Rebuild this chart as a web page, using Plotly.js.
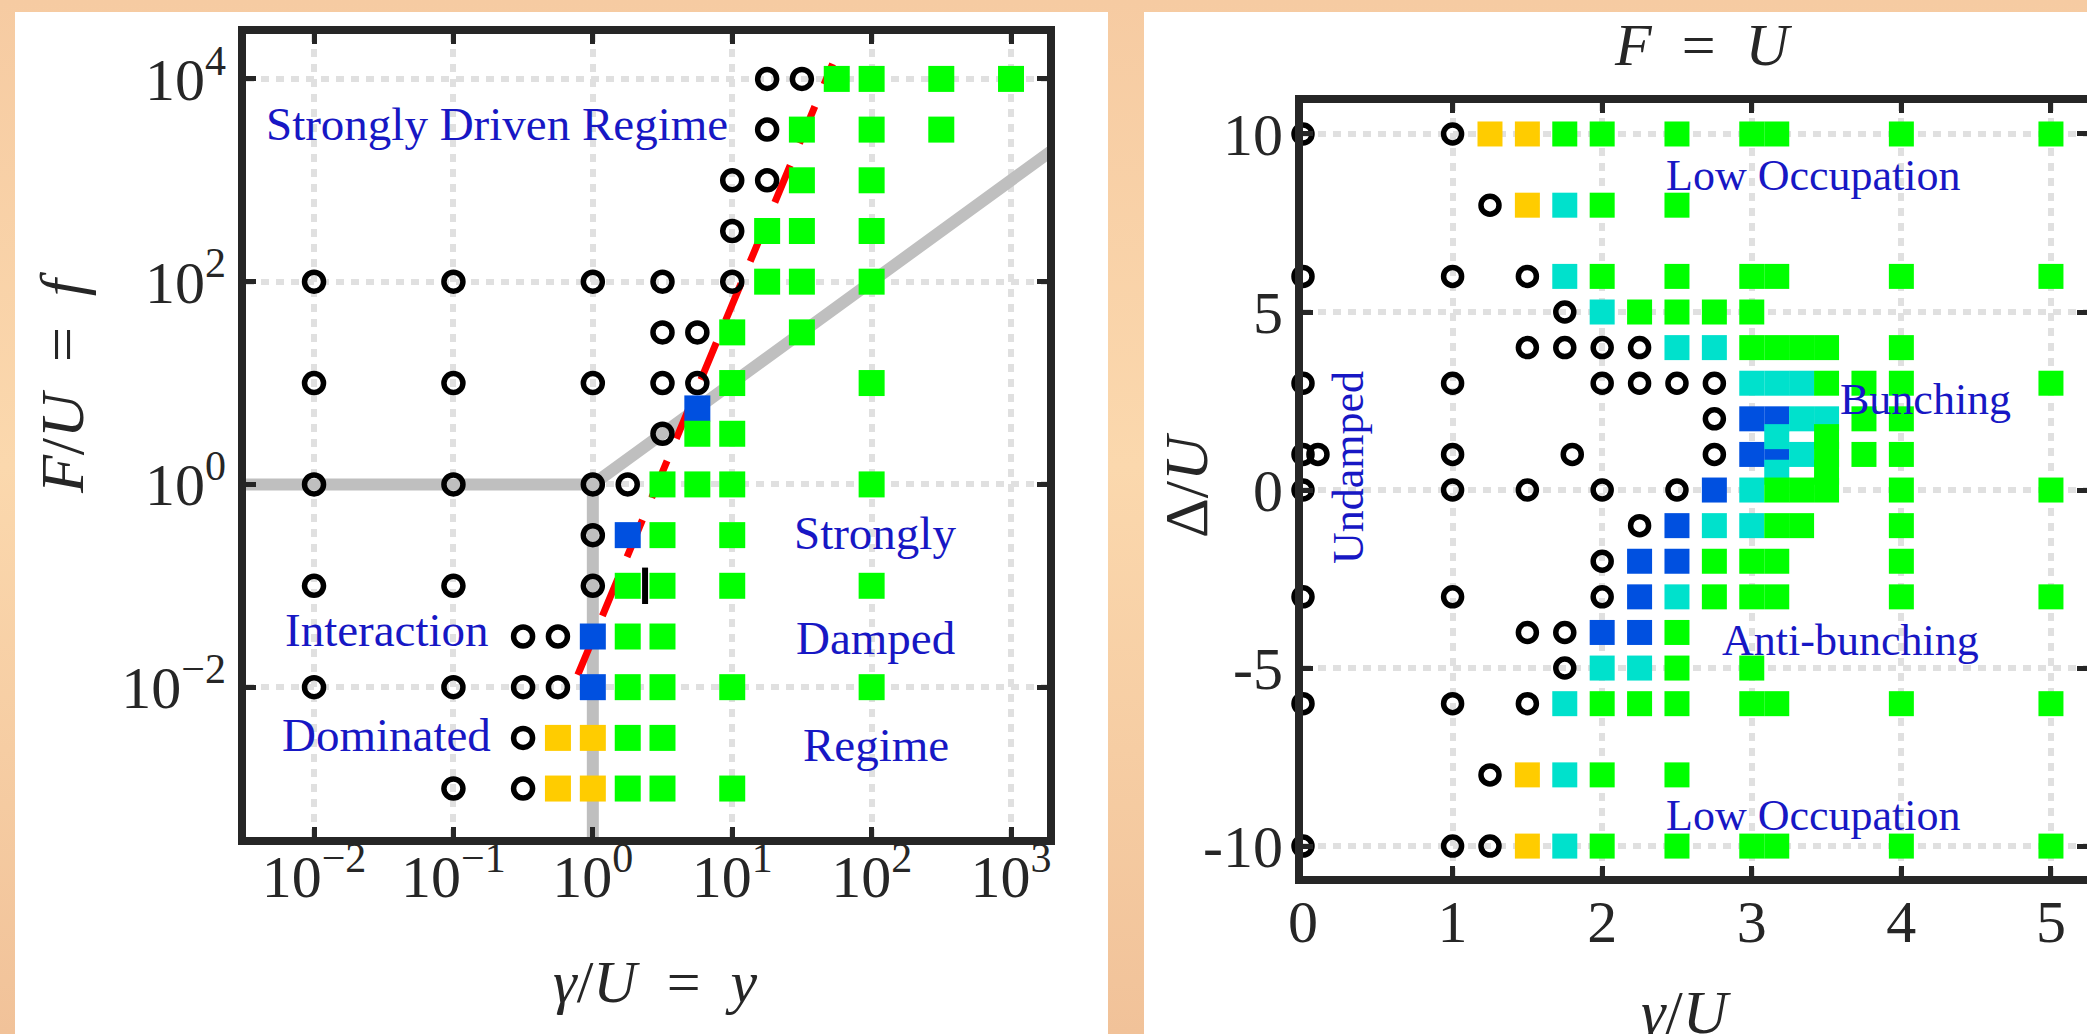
<!DOCTYPE html>
<html><head><meta charset="utf-8">
<script src="https://cdn.plot.ly/plotly-3.0.1.min.js"></script>
<style>
html,body{margin:0;padding:0;width:2087px;height:1034px;overflow:hidden;
background:linear-gradient(180deg,#f6cba2 0%,#fbd8ad 45%,#f1c299 100%);}
#chart{width:2087px;height:1034px;}
</style></head><body><div id="chart"></div><script>
// ---------------- Left panel: gamma/U (x) vs F/U (y), log-log ----------------
const leftXTickVals = [0.01, 0.1, 1, 10, 100, 1000];
const leftXTickText = ['10<sup>\u22122</sup>','10<sup>\u22121</sup>','10<sup>0</sup>','10<sup>1</sup>','10<sup>2</sup>','10<sup>3</sup>'];
const leftYTickVals = [0.01, 1, 100, 10000];
const leftYTickText = ['10<sup>\u22122</sup>','10<sup>0</sup>','10<sup>2</sup>','10<sup>4</sup>'];

const leftCircleX = [17.8,31.6, 17.8, 10,17.8, 10, 0.01,0.1,1,3.16,10, 3.16,5.62, 0.01,0.1,1,3.16,5.62, 3.16, 0.01,0.1,1,1.78, 1, 0.01,0.1,1, 0.316,0.562, 0.01,0.1,0.316,0.562, 0.316, 0.1,0.316];
const leftCircleY = [10000,10000, 3162, 1000,1000, 316, 100,100,100,100,100, 31.6,31.6, 10,10,10,10,10, 3.16, 1,1,1,1, 0.316, 0.1,0.1,0.1, 0.0316,0.0316, 0.01,0.01,0.01,0.01, 0.00316, 0.001,0.001];

const leftGreenX = [56.2,100,316,1000, 31.6,100,316, 31.6,100, 17.8,31.6,100, 17.8,31.6,100, 10,31.6, 10,100, 5.62,10, 3.16,5.62,10,100, 3.16,10, 1.78,3.16,10,100, 1.78,3.16, 1.78,3.16,10,100, 1.78,3.16, 1.78,3.16,10];
const leftGreenY = [10000,10000,10000,10000, 3162,3162,3162, 1000,1000, 316,316,316, 100,100,100, 31.6,31.6, 10,10, 3.16,3.16, 1,1,1,1, 0.316,0.316, 0.1,0.1,0.1,0.1, 0.0316,0.0316, 0.01,0.01,0.01,0.01, 0.00316,0.00316, 0.001,0.001,0.001];

const leftBlueX = [5.62, 1.78, 1, 1];
const leftBlueY = [5.62, 0.316, 0.0316, 0.01];
const leftYellowX = [0.562, 1, 0.562, 1];
const leftYellowY = [0.00316, 0.00316, 0.001, 0.001];
const leftBarX = [2.37];
const leftBarY = [0.1];

// regime boundaries (gray) and transition line (red dashed)
const boundaryX = [0.0025, 1, 2500];
const boundaryY = [1, 1, 2500];
const boundaryVX = [1, 1];
const boundaryVY = [1, 0.0002];
const redX = [0.78, 52.5];
const redY = [0.0132, 14100];

// ---------------- Right panel: gamma/U (x) vs Delta/U (y), F = U ----------------
const rightXTickVals = [0, 1, 2, 3, 4, 5];
const rightXTickText = ['0','1','2','3','4','5'];
const rightYTickVals = [-10, -5, 0, 5, 10];
const rightYTickText = ['-10','-5','0','5','10'];

const rightCircleX = [0,1, 1.25, 0,1,1.5, 1.75, 1.5,1.75,2,2.25, 0,1,2,2.25,2.5,2.75, 2.75, 0,0.1,1,1.8,2.75, 0,1,1.5,2,2.5, 2.25, 2, 0,1,2, 1.5,1.75, 1.75, 0,1,1.5, 1.25, 0,1,1.25];
const rightCircleY = [10,10, 8, 6,6,6, 5, 4,4,4,4, 3,3,3,3,3,3, 2, 1,1,1,1,1, 0,0,0,0,0, -1, -2, -3,-3,-3, -4,-4, -5, -6,-6,-6, -8, -10,-10,-10];

const rightYellowX = [1.25, 1.5, 1.5, 1.5, 1.5];
const rightYellowY = [10, 10, 8, -8, -10];

const rightBlueX = [3, 3.167, 3, 3.167, 2.75, 2.5, 2.25, 2.5, 2.25, 2, 2.25];
const rightBlueY = [2, 2, 1, 1, 0, -1, -2, -2, -3, -4, -4];

const rightCyanX = [1.75, 1.75, 2, 2.5, 2.75, 3, 3.167, 3.333, 3.333, 3.5, 3.167, 3.333, 3.167, 3, 2.75, 3, 2.5, 2, 2.25, 1.75, 1.75, 1.75];
const rightCyanY = [8, 6, 5, 4, 4, 3, 3, 3, 2, 2, 1.5, 1, 0.5, 0, -1, -1, -3, -5, -5, -6, -8, -10];

const rightGreenX = [1.75,2,2.5,3,3.167,4,5, 2,2.5, 2,2.5,3,3.167,4,5, 2.25,2.5,2.75,3, 3,3.167,3.333,3.5,4, 3.5,3.75,4,5, 3.75,4, 3.5, 3.5,3.75,4, 3.5, 3.167,3.333,3.5,4,5, 3.167,3.333,4, 2.75,3,3.167,4, 2.75,3,3.167,4,5, 2.5, 2.5,3, 2,2.25,2.5,3,3.167,4,5, 2,2.5, 2,2.5,3,3.167,4,5];
const rightGreenY = [10,10,10,10,10,10,10, 8,8, 6,6,6,6,6,6, 5,5,5,5, 4,4,4,4,4, 3,3,3,3, 2,2, 1.5, 1,1,1, 0.5, 0,0,0,0,0, -1,-1,-1, -2,-2,-2,-2, -3,-3,-3,-3,-3, -4, -5,-5, -6,-6,-6,-6,-6,-6,-6, -8,-8, -10,-10,-10,-10,-10,-10];

// ---------------- styling ----------------
const W = 2087, H = 1034;
const px = v => v / W;
const py = v => 1 - v / H;
const SERIF = "'Liberation Serif', 'DejaVu Serif', serif";
const INK = '#262626';
const BLUE_TXT = '#1717c4';
const GREEN = '#00ff00', CYAN = '#00e1cc', BLUE = '#0050e0', YELLOW = '#ffcc00';
const NB = '\u00a0';

function sq(x, y, color, xa, ya, size) {
  return {x, y, xaxis: xa, yaxis: ya, type: 'scatter', mode: 'markers', cliponaxis: false,
    marker: {symbol: 'square', size: size, color: color, line: {width: 0}}, hoverinfo: 'x+y'};
}
function circ(x, y, xa, ya, size) {
  return {x, y, xaxis: xa, yaxis: ya, type: 'scatter', mode: 'markers', cliponaxis: false,
    marker: {symbol: 'circle-open', size: size, color: '#000', line: {width: 5.5, color: '#000'}}, hoverinfo: 'x+y'};
}

const traces = [
  {x: boundaryX, y: boundaryY, xaxis: 'x', yaxis: 'y', mode: 'lines', line: {color: '#bfbfbf', width: 12}, hoverinfo: 'skip'},
  {x: boundaryVX, y: boundaryVY, xaxis: 'x', yaxis: 'y', mode: 'lines', line: {color: '#bfbfbf', width: 12}, hoverinfo: 'skip'},
  {x: redX, y: redY, xaxis: 'x', yaxis: 'y', mode: 'lines', line: {color: '#ff0000', width: 7, dash: '40px,24px'}, hoverinfo: 'skip'},
  circ(leftCircleX, leftCircleY, 'x', 'y', 19),
  sq(leftYellowX, leftYellowY, YELLOW, 'x', 'y', 26),
  sq(leftBlueX, leftBlueY, BLUE, 'x', 'y', 26),
  sq(leftGreenX, leftGreenY, GREEN, 'x', 'y', 26),
  {x: leftBarX, y: leftBarY, xaxis: 'x', yaxis: 'y', mode: 'markers',
   marker: {symbol: 'line-ns', size: 26, line: {width: 6, color: '#000'}}, hoverinfo: 'skip'},

  sq(rightBlueX, rightBlueY, BLUE, 'x2', 'y2', 25),
  sq(rightCyanX, rightCyanY, CYAN, 'x2', 'y2', 25),
  sq(rightGreenX, rightGreenY, GREEN, 'x2', 'y2', 25),
  sq(rightYellowX, rightYellowY, YELLOW, 'x2', 'y2', 25),
  circ(rightCircleX, rightCircleY, 'x2', 'y2', 18)
];

const axBase = {
  showline: true, linewidth: 8, linecolor: INK, mirror: 'ticks',
  ticks: 'inside', ticklen: 10, tickwidth: 5, tickcolor: INK,
  showgrid: true, gridcolor: '#e0e0e0', gridwidth: 6, griddash: '8px,7px',
  zeroline: false, tickfont: {family: SERIF, size: 60, color: INK}, tickmode: 'array'
};

function ann(text, x, y, size, color, angle) {
  return {text, x: px(x), y: py(y), xref: 'paper', yref: 'paper', showarrow: false,
    xanchor: 'center', yanchor: 'middle', textangle: angle || 0,
    font: {family: SERIF, size: size, color: color}};
}

const layout = {
  width: W, height: H, margin: {l: 0, r: 0, t: 0, b: 0},
  paper_bgcolor: 'rgba(0,0,0,0)', plot_bgcolor: '#ffffff', showlegend: false,
  xaxis: Object.assign({}, axBase, {type: 'log', domain: [px(246), px(1047)], range: [-2.488, 3.258],
    tickvals: leftXTickVals, ticktext: leftXTickText, anchor: 'y', ticklabelstandoff: -20}),
  yaxis: Object.assign({}, axBase, {type: 'log', domain: [py(837), py(34)], range: [-3.478, 4.443],
    tickvals: leftYTickVals, ticktext: leftYTickText, anchor: 'x'}),
  xaxis2: Object.assign({}, axBase, {domain: [px(1303), 1], range: [0, 5.241],
    tickvals: rightXTickVals, ticktext: rightXTickText, anchor: 'y2', ticklabelstandoff: -14}),
  yaxis2: Object.assign({}, axBase, {domain: [py(876), py(103)], range: [-10.84, 10.87],
    tickvals: rightYTickVals, ticktext: rightYTickText, anchor: 'x2'}),
  shapes: [
    {type: 'rect', xref: 'paper', yref: 'paper', x0: px(15), x1: px(1108), y0: 0, y1: py(12),
     fillcolor: '#ffffff', line: {width: 0}, layer: 'below'},
    {type: 'rect', xref: 'paper', yref: 'paper', x0: px(1144), x1: 1, y0: 0, y1: py(12),
     fillcolor: '#ffffff', line: {width: 0}, layer: 'below'}
  ],
  annotations: [
    ann('Strongly Driven Regime', 497, 124, 47, BLUE_TXT),
    ann('Interaction', 387, 630, 47, BLUE_TXT),
    ann('Dominated', 386, 735, 47, BLUE_TXT),
    ann('Strongly', 875, 533, 47, BLUE_TXT),
    ann('Damped', 875, 638, 47, BLUE_TXT),
    ann('Regime', 876, 745, 47, BLUE_TXT),
    ann('Low Occupation', 1813, 175, 44, BLUE_TXT),
    ann('Low Occupation', 1813, 815, 44, BLUE_TXT),
    ann('Bunching', 1925, 399, 44, BLUE_TXT),
    ann('Anti-bunching', 1850, 640, 44, BLUE_TXT),
    ann('Undamped', 1348, 468, 44, BLUE_TXT, -90),
    ann('<i>\u03b3</i>/<i>U</i>' + NB + NB + '=' + NB + NB + '<i>y</i>', 655, 982, 60, INK),
    ann('<i>F</i>/<i>U</i>' + NB + NB + '=' + NB + NB + '<i>f</i>', 62, 383, 62, INK, -90),
    ann('<i>F</i>' + NB + NB + '=' + NB + NB + '<i>U</i>', 1703, 45, 60, INK),
    ann('\u0394/<i>U</i>', 1186, 485, 62, INK, -90),
    ann('<i>\u03b3</i>/<i>U</i>', 1686, 1012, 62, INK)
  ]
};

Plotly.newPlot('chart', traces, layout, {displayModeBar: false, staticPlot: true});
</script></body></html>
